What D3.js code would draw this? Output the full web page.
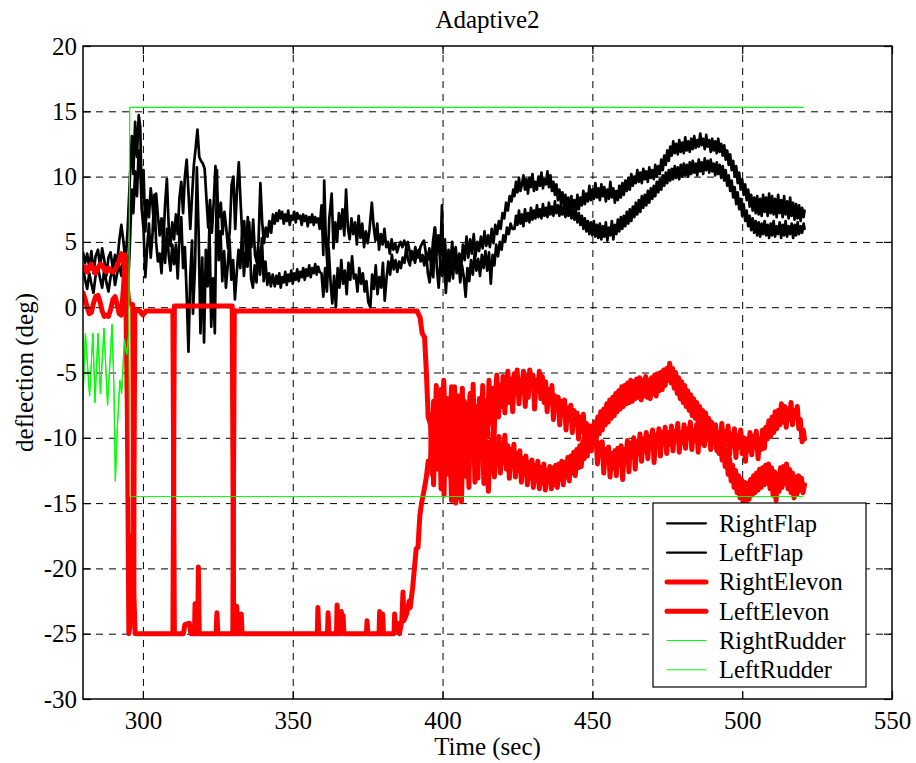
<!DOCTYPE html>
<html><head><meta charset="utf-8">
<script src="https://cdn.jsdelivr.net/npm/d3@7"></script>
<style>body{margin:0;background:#fff} text{font-family:"Liberation Serif","Times New Roman",serif}</style>
</head><body><svg id="c" width="916" height="763"></svg>
<script>
const titleText = "Adaptive2";
const xLabel = "Time (sec)";
const yLabel = "deflection (deg)";
const xTicks = [300,350,400,450,500,550];
const yTicks = [-30,-25,-20,-15,-10,-5,0,5,10,15,20];
const seriesNames = ["RightFlap","LeftFlap","RightElevon","LeftElevon","RightRudder","LeftRudder"];

const rightFlap = [[280,4.2],[280.7,3.4],[281.4,4.1],[282.1,3.0],[282.8,4.3],[283.5,2.6],[284.2,3.9],[285,4.4],[285.7,3.1],[286.4,4.5],[287.1,3.6],[287.8,2.4],[288.5,3.8],[289.2,4.2],[290,2.9],[290.7,4.0],[291.4,3.3],[292.1,5.1],[292.8,6.3],[293.5,5.0],[294.2,3.4],[294.9,6.0],
[295.6,9.6],[296.3,13.1],[296.8,10.2],[297.4,14.2],[298,11.5],[298.6,14.7],[299.1,13.8],[299.6,8.4],[300.2,10.5],[300.8,5.8],[301.4,8.2],[302,6.9],[302.6,9.1],[303.2,7.8],[303.8,5.9],[304.4,8.7],[305,7.0],[305.6,5.5],[306.2,6.8],[306.8,4.9],[307.4,7.9],[308,9.8],[308.6,6.2],[309.2,4.7],[309.8,6.5],[310.4,5.2],[311,7.1],[311.6,5.6],[312.2,8.4],[312.8,9.6],[313.4,7.2],[314,10.0],[314.6,11.3],[315.2,8.8],[315.8,6.0],[316.4,8.5],[317,10.9],[317.6,12.2],[318.2,13.6],[318.8,11.5],[319.4,11.2],[320,11.0],[320.6,10.6],[321.2,8.3],[321.8,6.1],[322.4,8.2],[323,5.7],[323.6,7.9],[324.2,10.8],[324.8,8.4],[325.4,6.9],[326,8.0],[326.6,5.6],[327.2,7.3],[327.8,6.1],[328.4,4.5],[329,5.9],[329.6,9.4],[330.2,10.0],[330.8,6.0],[331.4,9.0],[332,11.1],[332.6,8.0],[333.2,5.3],[333.8,6.6],[334.4,4.2],[335,6.9],[335.6,5.0],[336.2,4.6],[336.8,6.7],[337.4,4.0],[338,3.4],[338.6,5.1],[339.2,9.5],[339.8,6.5],[340.4,4.9],[341,6.1],[341.6,5.4],[342.2,6.6],[342.8,5.7],
[343.4,7.1],[344,6.4],[344.5,7.2],[345,6.6],[345.5,7.4],[346,6.8],[346.5,7.3],[347,6.4],[347.5,7.1],[348,6.6],[348.5,7.4],[349,6.3],[349.5,7.0],[350,6.7],[350.5,7.3],[351,6.5],[351.5,7.2],[352,6.8],[352.5,7.0],[353,6.3],[353.5,7.1],[354,6.6],[354.5,7.0],[355,6.2],[355.5,6.9],[356,6.5],[356.5,7.1],[357,6.3],[357.5,6.9],[358,6.5],[358.5,6.8],[359,6.0],
[359.6,7.8],[360.2,4.0],[360.5,9.7],[361,5.5],[361.6,3.0],[362.2,6.8],[363,8.7],[363.6,4.5],[364.2,6.5],[364.8,5.0],[365.4,7.2],[366,6.0],[366.6,7.5],[367.2,5.5],[367.8,9.0],[368.4,6.1],[369,5.2],[369.6,6.8],[370.2,5.6],[370.8,6.5],[371.4,4.8],[372,7.0],[372.6,5.3],[373.2,6.4],[373.8,4.6],[374.4,5.8],[375,4.9],[375.6,5.9],[376.4,8.0],[377,6.2],[377.6,5.1],[378.2,6.4],[378.8,4.4],[379.4,5.6],[380,4.8],[380.6,6.0],[381.2,4.6],[381.8,5.0],[382.4,4.1],[383,5.2],[383.6,4.4],[384.2,4.9],[384.8,4.2],[385.4,4.7],[386,5.0],[386.6,4.6],[387.2,5.1],[387.8,4.7],[388.4,5.0],[389,4.3],[389.6,3.6],[390.2,4.0],[390.8,3.4],[391.4,4.1],[392,3.8],[392.6,4.6],[393.2,4.9],[393.8,5.1],[394.4,4.2],[395,3.6],[395.6,4.5],[396.2,3.1],[396.8,5.0],[397.4,6.1],[398,4.0],[398.6,5.5],[399.2,3.4],[399.8,7.8],[400.3,3.0],[400.8,5.2],[401.4,2.6],[402,4.4],[402.6,3.2],[403.2,5.0],[403.8,3.6],[404.4,4.6],[405,2.8],[405.6,4.1],[406.2,3.0],[406.8,4.8],[407.4,3.6],[408,5.4],[408.6,3.8],[409.2,5.2],[409.8,4.1],[410.4,5.6],[411,3.9],[411.6,5.0],[412.2,4.3],[412.8,5.4],[413.4,4.5],[414,5.8],[414.6,4.7],[415.2,5.5],[415.8,4.6],[416.4,6.0],[417,4.9],[417.6,6.3],[418.2,5.6],[418.8,6.6],[419.4,6.0],[420,7.2],[420.6,6.8],[421.2,8.0],[421.8,7.4],[422.4,8.5],[423,8.1],[423.6,9.0],
[424,8.5],[424.5,9.6],[425,8.8],[425.5,9.9],[426,8.9],[426.5,9.4],[427,10.1],[427.5,9.0],[428,9.8],[428.5,8.7],[429,9.9],[429.5,9.2],[430,10.2],[430.5,8.9],[431,9.6],[431.5,9.0],[432,10.0],[432.5,9.3],[433,10.3],[433.5,9.1],[434,9.8],[434.5,9.4],[435,10.4],[435.5,9.2],[436,10.1],[436.5,8.9],[437,9.6],[437.5,8.6],[438,9.4],[438.5,8.2],[439,9.0],[439.5,8.0],[440,8.8],[440.5,7.7],[441,8.6],[441.5,7.6],[442,8.4],[442.5,7.4],[443,8.5],[443.5,7.6],[444,8.2],[444.5,7.3],[445,8.6],[445.5,7.5],[446,8.4],[446.5,7.8],[447,8.9],[447.5,7.9],[448,8.7],[448.5,8.1],[449,9.3],[449.5,8.2],[450,9.0],[450.5,8.3],[451,9.5],[451.5,8.4],[452,9.1],[452.5,8.2],[453,9.4],[453.5,8.5],[454,9.2],[454.5,8.1],[455,9.0],[455.5,8.3],[456,9.6],[456.5,8.4],[457,9.1],[457.5,8.0],[458,8.9],[458.5,8.2],[459,9.3],[459.5,8.4],[460,9.5],[460.5,8.6],[461,9.7],[461.5,8.9],[462,9.9],[462.5,9.0],[463,10.2],[463.5,9.3],[464,10.0],[464.5,9.5],[465,10.5],[465.5,9.6],[466,10.3],[466.5,9.5],[467,10.6],[467.5,9.8],[468,10.4],[468.5,9.6],[469,10.7],[469.5,9.9],[470,10.5],[470.5,9.8],[471,10.9],[471.5,10.0],[472,10.8],[472.5,10.2],[473,11.3],[473.5,10.5],[474,11.6],[474.5,10.9],[475,12.0],[475.5,11.2],[476,12.3],[476.5,11.6],[477,12.7],[477.5,11.8],[478,12.5],[478.5,11.7],[479,12.8],[479.5,11.9],[480,12.6],[480.5,11.8],[481,13.0],[481.5,12.0],[482,12.7],[482.5,11.9],[483,12.9],[483.5,12.1],[484,13.1],[484.5,12.2],[485,12.8],[485.5,12.3],[486,13.3],[486.5,12.4],[487,12.9],[487.5,12.1],[488,13.2],[488.5,12.3],[489,12.8],[489.5,11.9],[490,12.9],[490.5,12.0],[491,12.7],[491.5,11.8],[492,12.9],[492.5,11.9],[493,12.5],[493.5,11.6],[494,12.4],[494.5,11.3],[495,12.0],[495.5,10.9],[496,11.7],[496.5,10.5],[497,11.2],[497.5,10.0],[498,10.8],[498.5,9.5],[499,10.3],[499.5,9.0],[500,9.8],[500.5,8.6],[501,9.4],[501.5,8.2],[502,9.0],[502.5,7.7],[503,8.6],[503.5,7.4],[504,8.4],[504.5,7.2],[505,8.5],[505.5,7.1],[506,8.3],[506.5,7.0],[507,8.6],[507.5,7.3],[508,8.4],[508.5,7.0],[509,8.7],[509.5,7.2],[510,8.5],[510.5,7.1],[511,8.3],[511.5,6.9],[512,8.6],[512.5,7.2],[513,8.2],[513.5,6.9],[514,8.5],[514.5,7.1],[515,8.1],[515.5,6.8],[516,8.4],[516.5,7.0],[517,8.0],[517.5,6.7],[518,7.9],[518.5,6.8],[519,7.8],[519.5,6.6],[520,7.6],[520.5,6.9],[520.8,7.4]];

const leftFlap = [[280,3.0],[280.7,2.1],[281.4,1.4],[282.1,2.6],[282.8,1.8],[283.5,1.1],[284.2,2.4],[285,3.1],[285.7,2.2],[286.4,1.5],[287.1,2.9],[287.8,1.9],[288.5,1.2],[289.2,2.3],[290,3.0],[290.7,1.7],[291.4,2.6],[292.1,3.2],[292.8,2.4],[293.5,3.9],[294.2,2.2],[294.9,1.0],
[295.6,4.5],[296.3,9.0],[296.8,7.2],[297.4,10.4],[298,8.5],[298.6,12.0],[299.1,10.8],[299.6,7.5],[300.2,6.0],[300.8,2.3],[301.4,4.5],[302,6.4],[302.6,3.8],[303.2,5.6],[303.8,8.6],[304.4,5.0],[305,3.5],[305.6,4.1],[306.2,2.6],[306.8,5.5],[307.4,3.4],[308,6.0],[308.6,4.0],[309.2,2.8],[309.8,4.8],[310.4,3.3],[311,4.8],[311.6,2.2],[312.2,5.4],[312.8,6.9],[313.4,3.0],[314,4.6],[314.6,1.0],[315.2,-3.4],[315.8,2.4],[316.4,5.1],[316.7,-0.5],[317.4,3.2],[318,10.7],[318.6,5.6],[319.2,-2.0],[319.8,3.8],[320.4,-2.7],[321,4.4],[321.6,1.6],[322.2,6.2],[322.8,-1.5],[323.4,2.2],[324,-2.0],[324.7,10.5],[325.3,3.6],[325.9,5.8],[326.5,2.0],[327.1,4.3],[327.7,1.5],[328.3,3.2],[328.9,5.2],[329.5,2.1],[330.1,3.6],[330.7,0.6],[331.3,2.6],[331.9,4.4],[332.5,3.0],[333.1,5.9],[333.7,2.4],[334.3,4.2],[334.9,3.1],[335.5,6.5],[336.1,2.2],[336.7,1.5],[337.3,3.2],[337.9,1.9],[338.5,4.6],[339.1,2.5],[339.7,5.3],[340.3,2.0],[340.9,3.5],[341.5,1.7],[342.1,2.6],[342.7,1.6],
[343.3,2.5],[344,1.6],[344.5,2.4],[345,1.8],[345.5,2.6],[346,1.5],[346.5,2.3],[347,1.9],[347.5,2.7],[348,1.7],[348.5,2.5],[349,2.0],[349.5,2.8],[350,1.8],[350.5,2.6],[351,2.1],[351.5,2.9],[352,2.0],[352.5,2.7],[353,2.3],[353.5,3.0],[354,2.1],[354.5,2.9],[355,2.4],[355.5,3.2],[356,2.3],[356.5,3.0],[357,2.6],[357.5,3.3],[358,2.5],[358.5,3.1],[359,2.7],
[359.6,2.6],[360.2,0.8],[360.8,3.0],[361.4,1.2],[362,4.5],[362.6,2.0],[363.2,0.3],[363.8,2.4],[364.4,0.0],[365,3.0],[365.6,1.5],[366.2,3.6],[366.8,1.8],[367.4,2.8],[368,1.0],[368.6,3.4],[369.2,2.1],[369.8,3.9],[370.4,2.2],[371,2.5],[371.6,1.2],[372.2,3.0],[372.8,1.8],[373.4,2.6],[374,1.2],[374.6,2.0],[375.2,0.4],[375.9,0.0],[376.5,2.5],[377.1,1.4],[377.7,3.2],[378.3,1.0],[378.9,2.3],[379.5,1.5],[380.1,3.4],[380.7,0.5],[381.3,2.2],[381.9,3.5],[382.5,2.5],[383.1,4.0],[383.7,2.9],[384.3,3.6],[384.9,2.7],[385.5,3.5],[386.1,3.0],[386.7,3.8],[387.3,3.4],[387.9,4.6],[388.5,3.6],[389.1,3.2],[389.7,4.3],[390.3,3.7],[390.9,4.6],[391.5,3.9],[392.1,4.4],[392.7,3.5],[393.3,4.0],[393.9,3.2],[394.5,4.2],[395.1,2.6],[395.7,1.9],[396.3,3.5],[396.9,2.3],[397.5,6.1],[398.1,3.0],[398.7,1.5],[399.3,3.6],[399.9,2.4],[400.5,4.5],[401.1,1.1],[401.7,3.3],[402.3,2.0],[402.9,3.8],[403.5,2.2],[404.1,4.4],[404.7,2.6],[405.3,3.5],[405.9,1.9],[406.5,3.2],[407.1,2.3],[407.7,0.8],[408.3,3.0],[408.9,2.0],[409.5,3.6],[410.1,2.5],[410.7,4.1],[411.3,2.8],[411.9,3.7],[412.5,2.4],[413.1,4.0],[413.7,3.0],[414.3,4.3],[414.9,2.8],[415.5,4.2],[416.1,1.8],[416.7,4.0],[417.3,3.2],[417.9,4.8],[418.5,3.9],[419.1,5.0],[419.7,4.4],[420.3,5.5],[420.9,5.0],[421.5,6.1],[422.1,5.6],[422.7,6.4],[423.3,6.0],
[424,6.0],[424.5,7.0],[425,6.3],[425.5,7.4],[426,6.4],[426.5,7.1],[427,6.2],[427.5,7.5],[428,6.6],[428.5,7.2],[429,6.5],[429.5,7.6],[430,6.7],[430.5,7.4],[431,6.8],[431.5,7.8],[432,6.9],[432.5,7.5],[433,6.8],[433.5,7.9],[434,7.0],[434.5,7.6],[435,6.9],[435.5,8.0],[436,7.1],[436.5,7.7],[437,7.0],[437.5,8.1],[438,7.2],[438.5,7.8],[439,7.0],[439.5,7.9],[440,7.1],[440.5,7.6],[441,6.9],[441.5,7.8],[442,7.0],[442.5,7.5],[443,6.8],[443.5,7.6],[444,6.7],[444.5,7.3],[445,6.5],[445.5,7.2],[446,6.3],[446.5,7.0],[447,6.0],[447.5,6.8],[448,5.8],[448.5,6.6],[449,5.6],[449.5,6.5],[450,5.5],[450.5,6.6],[451,5.4],[451.5,6.3],[452,5.3],[452.5,6.4],[453,5.2],[453.5,6.2],[454,5.4],[454.5,6.5],[455,5.1],[455.5,6.1],[456,5.5],[456.5,6.6],[457,5.2],[457.5,6.3],[458,5.6],[458.5,6.7],[459,5.8],[459.5,6.9],[460,6.0],[460.5,7.0],[461,6.2],[461.5,7.3],[462,6.4],[462.5,7.5],[463,6.6],[463.5,7.7],[464,6.9],[464.5,8.0],[465,7.1],[465.5,8.2],[466,7.3],[466.5,8.5],[467,7.6],[467.5,8.6],[468,7.8],[468.5,8.9],[469,8.0],[469.5,9.1],[470,8.3],[470.5,9.3],[471,8.5],[471.5,9.6],[472,8.8],[472.5,9.8],[473,9.0],[473.5,10.1],[474,9.3],[474.5,10.3],[475,9.5],[475.5,10.5],[476,9.7],[476.5,10.6],[477,9.8],[477.5,10.8],[478,9.9],[478.5,10.7],[479,9.8],[479.5,10.9],[480,10.0],[480.5,11.0],[481,10.1],[481.5,10.9],[482,10.0],[482.5,11.1],[483,10.2],[483.5,11.2],[484,10.3],[484.5,11.0],[485,10.1],[485.5,11.3],[486,10.4],[486.5,11.1],[487,10.2],[487.5,11.4],[488,10.5],[488.5,11.2],[489,10.3],[489.5,11.3],[490,10.4],[490.5,11.0],[491,10.1],[491.5,11.1],[492,10.2],[492.5,10.9],[493,9.9],[493.5,10.8],[494,9.7],[494.5,10.5],[495,9.3],[495.5,10.1],[496,8.9],[496.5,9.7],[497,8.4],[497.5,9.2],[498,7.9],[498.5,8.8],[499,7.5],[499.5,8.3],[500,7.0],[500.5,7.9],[501,6.6],[501.5,7.4],[502,6.2],[502.5,7.0],[503,5.9],[503.5,6.8],[504,5.7],[504.5,6.6],[505,5.5],[505.5,6.5],[506,5.4],[506.5,6.4],[507,5.6],[507.5,6.6],[508,5.5],[508.5,6.3],[509,5.3],[509.5,6.4],[510,5.5],[510.5,6.6],[511,5.4],[511.5,6.2],[512,5.6],[512.5,6.5],[513,5.3],[513.5,6.3],[514,5.5],[514.5,6.6],[515,5.4],[515.5,6.2],[516,5.6],[516.5,6.4],[517,5.3],[517.5,6.3],[518,5.5],[518.5,6.5],[519,5.6],[519.5,6.2],[520,5.7],[520.5,6.4],[520.8,6.0]];

const rightElevon = [[280,2.8],[280.7,3.1],[281.4,2.7],[282.1,3.0],[282.8,3.3],[283.5,2.9],[284.2,2.6],[285,3.0],[285.7,3.3],[286.4,3.2],[287.1,2.9],[287.8,2.7],[288.5,3.0],[289.2,2.8],[290,2.7],[290.7,2.9],[291.4,3.2],[292.1,3.6],[292.8,4.1],[293.5,3.8],[294.2,2.5],[294.8,-8],[295.3,-25],[296,-24],[296.4,-17.5],[296.8,-24],[297.3,-0.3],[298,-0.2],[299,-0.3],[300,-0.6],[301,-0.3],[305,-0.3],[310,-0.3],[310.5,-25],[313.5,-25],[314,-24.3],[315.5,-24.2],[316,-25],[317.2,-25],[317.4,-22.7],[317.8,-25],[318.3,-25],[318.5,-19.9],[318.8,-25],[324.4,-25],[324.7,-23.4],[325,-25],[330,-25],[330.5,-0.3],[360,-0.3],[391.5,-0.3],[392.5,-0.8],[393.2,-2.0],[394,-2.3],[394.6,-5],[395.2,-8.4],
[396,-9.0],[396.5,-12.8],[397,-7.2],[397.4,-10.1],[397.9,-6.0],[398.5,-11.4],[399,-9.0],[399.5,-13.9],[400,-8.3],[400.4,-5.6],[401,-9.8],[401.5,-7.0],[402,-12.2],[402.4,-10.1],[403,-14.8],[403.5,-8.0],[404,-6.1],[404.6,-10.4],[405.1,-8.0],[405.6,-14.6],[406,-9.6],[406.6,-6.2],[407.1,-11.5],[407.6,-7.8],[408.1,-13.0],[408.6,-8.6],[409.2,-6.6],[409.7,-10.3],[410.2,-5.9],[410.8,-11.4],[411.3,-7.6],[411.8,-13.1],[412.3,-7.0],[412.9,-10.6],[413.4,-6.0],[414,-11.6],[414.5,-7.2],[415,-9.9],[415.5,-5.6],[416,-8.9],[416.6,-6.2],[417.1,-10.8],[417.6,-6.9],[418.1,-5.2],[418.7,-8.4],[419.2,-6.0],[419.7,-7.6],[420.2,-5.3],[420.8,-8.1],[421.3,-5.8],[421.8,-4.9],[422.3,-7.3],[422.9,-5.5],[423.4,-8.0],[423.9,-5.1],[424.4,-6.5],[424.9,-4.8],[425.5,-7.4],[426,-5.6],[426.5,-6.1],[427,-4.9],[427.6,-7.6],[428.1,-5.3],[428.6,-6.9],[429.1,-4.8],[429.7,-6.2],[430.2,-5.2],[430.7,-7.8],[431.2,-5.6],[431.8,-6.4],[432.3,-4.9],[432.8,-7.0],[433.3,-5.3],[433.9,-7.3],[434.4,-5.7],[434.9,-8.0],[435.4,-6.3],[436,-7.3],[436.5,-6.0],[437,-8.6],[437.5,-6.8],[438.1,-7.7],[438.6,-6.9],[439.1,-9.0],[439.6,-7.2],[440.2,-8.2],[440.7,-7.1],[441.2,-9.4],[441.7,-7.7],[442.3,-8.6],[442.8,-7.5],[443.3,-9.6],[443.8,-7.9],[444.4,-9.0],[444.9,-8.1],[445.4,-10.1],[445.9,-8.4],[446.5,-9.5],[447,-8.2],[447.5,-10.4],[448,-8.9],[448.6,-10.0],[449.1,-9.1],[449.6,-11.0],[450.1,-9.6],[450.7,-10.6],[451.2,-9.8],[451.7,-12.0],[452.2,-10.4],[452.8,-11.3],[453.3,-10.3],[453.8,-12.7],[454.3,-10.9],[454.9,-11.9],[455.4,-10.7],[455.9,-13.0],[456.4,-11.2],[457,-12.3],[457.5,-11.0],[458,-12.9],[458.5,-10.8],[459.1,-12.1],[459.6,-10.6],[460.1,-13.2],[460.6,-10.9],[461.2,-11.6],[461.7,-10.2],[462.2,-12.6],[462.7,-10.4],[463.3,-11.4],[463.8,-10.0],[464.3,-12.4],[464.8,-10.3],[465.4,-11.2],[465.9,-9.7],[466.4,-11.8],[466.9,-10.1],[467.5,-11.0],[468,-9.6],[468.5,-11.6],[469,-9.9],[469.6,-10.7],[470.1,-9.4],[470.6,-11.9],[471.1,-9.8],[471.7,-10.6],[472.2,-9.3],[472.7,-11.4],[473.2,-9.6],[473.8,-10.3],[474.3,-9.2],[474.8,-11.2],[475.3,-9.6],[475.9,-10.5],[476.4,-9.1],[476.9,-11.0],[477.4,-9.5],[478,-10.2],[478.5,-8.9],[479,-11.1],[479.5,-9.6],[480.1,-10.4],[480.6,-9.0],[481.1,-10.8],[481.6,-9.3],[482.2,-10.0],[482.7,-8.8],[483.2,-10.9],[483.7,-9.4],[484.3,-10.2],[484.8,-9.0],[485.3,-11.1],[485.8,-9.3],[486.4,-10.4],[486.9,-8.9],[487.4,-10.6],[487.9,-9.2],[488.5,-10.1],[489,-8.7],[489.5,-10.9],[490,-9.4],[490.6,-10.3],[491.1,-9.0],[491.6,-11.0],[492.1,-9.6],[492.7,-10.2],[493.2,-8.9],[493.7,-11.2],[494.2,-9.5],[494.8,-10.5],[495.3,-9.1],[495.8,-11.3],[496.3,-9.7],[496.9,-10.6],[497.4,-9.3],[497.9,-11.5],[498.4,-9.8],[499,-10.7],[499.5,-9.4],[500,-11.2],[500.5,-10.0],[501.1,-11.8],[501.6,-10.1],[502.1,-11.0],[502.6,-9.6],[503.2,-11.3],[503.7,-9.9],[504.2,-10.7],[504.7,-9.5],[505.3,-11.6],[505.8,-10.1],[506.3,-10.9],[506.8,-9.4],[507.4,-10.8],[507.9,-9.2],[508.4,-10.1],[508.9,-8.7],[509.5,-9.9],[510,-8.4],[510.5,-9.6],[511,-8.0],[511.6,-9.3],[512.1,-7.9],[512.6,-9.0],[513.1,-7.4],[513.7,-8.8],[514.2,-7.6],[514.7,-9.2],[515.2,-7.8],[515.8,-8.6],[516.3,-7.3],[516.8,-9.0],[517.3,-7.9],[517.9,-8.4],[518.4,-7.6],[518.9,-9.3],[519.4,-8.6],[520,-10.3],[520.4,-9.4],[520.8,-10.1]];

const leftElevon = [[280,1.1],[280.7,0.6],[281.4,0.0],[282.1,-0.5],[282.8,-0.4],[283.5,0.3],[284.2,0.8],[285,0.9],[285.7,0.4],[286.4,-0.3],[287.1,-0.7],[287.8,-0.6],[288.5,-0.7],[289.2,-0.2],[290,0.6],[290.7,0.8],[291.4,0.2],[292.1,-0.5],[292.8,-0.6],[293.5,1.5],[294.2,4.0],[294.8,1.5],[295.3,0.3],[296.6,0.2],[297,-22],[297.4,-25],[305,-25],[310,-25],[310.5,0.1],[320,0.1],[329.8,0.1],[330.3,-25],[331,-25],[331.3,-22.9],[331.7,-25],[332.5,-25],[332.8,-23.5],[333.1,-25],[345,-25],[358.2,-25],[358.4,-23],[358.7,-25],[361.6,-25],[361.8,-23.4],[362.1,-25],[364.6,-25],[364.8,-22.8],[365.1,-25],[366,-25],[366.2,-23.3],[366.5,-24],[366.8,-23.6],[367.1,-25],[374.6,-25],[374.8,-24],[375.1,-25],[378.8,-25],[379,-23.3],[379.3,-25],[379.8,-25],[380,-23.5],[380.3,-25],[383.8,-25],[384,-23.5],[384.3,-24.5],[385,-24.2],[385.6,-25],[386.4,-24],[386.8,-21.8],[387.1,-24],[388,-23.5],[388.9,-22.5],[389.2,-23.0],[390,-21.5],[390.6,-20],[391.2,-18.5],[391.8,-18.4],[392.4,-16],[393,-15],[394,-13.8],[394.6,-13],[395.2,-11.8],
[396,-11.7],[396.5,-8.2],[397,-13.6],[397.5,-9.5],[398,-7.6],[398.5,-12.4],[399,-9.8],[399.5,-6.3],[400,-11.2],[400.5,-14.4],[401,-7.4],[401.5,-10.9],[402,-12.8],[402.5,-8.6],[403,-6.1],[403.5,-11.0],[404,-13.5],[404.4,-15.0],[404.9,-9.2],[405.4,-6.8],[405.9,-12.4],[406.3,-14.9],[406.8,-10.0],[407.3,-7.2],[407.8,-12.9],[408.3,-9.5],[408.8,-13.8],[409.3,-7.0],[409.8,-10.7],[410.3,-8.2],[410.8,-13.4],[411.3,-9.0],[411.8,-12.2],[412.3,-7.5],[412.8,-11.6],[413.3,-9.4],[413.8,-13.5],[414.3,-10.2],[414.8,-11.8],[415.3,-14.1],[415.8,-10.3],[416.3,-12.6],[416.8,-9.6],[417.3,-13.0],[417.8,-10.8],[418.3,-12.0],[418.8,-9.9],[419.3,-12.7],[419.8,-10.4],[420.3,-11.9],[420.8,-9.8],[421.3,-12.4],[421.8,-10.6],[422.3,-13.1],[422.8,-10.9],[423.3,-12.0],[423.8,-10.5],[424.3,-13.0],[424.8,-11.2],[425.3,-12.5],[425.8,-11.0],[426.3,-13.4],[426.8,-11.6],[427.3,-12.8],[427.8,-11.4],[428.3,-13.6],[428.8,-11.9],[429.3,-13.1],[429.8,-11.7],[430.3,-13.8],[430.8,-12.1],[431.3,-13.3],[431.8,-11.8],[432.3,-13.9],[432.8,-12.3],[433.3,-13.5],[433.8,-12.0],[434.3,-14.0],[434.8,-12.5],[435.3,-13.4],[435.8,-12.2],[436.3,-13.9],[436.8,-12.3],[437.3,-13.6],[437.8,-12.1],[438.3,-13.8],[438.8,-12.0],[439.3,-13.2],[439.8,-11.8],[440.3,-13.6],[440.8,-11.9],[441.3,-13.0],[441.8,-11.5],[442.3,-13.3],[442.8,-11.4],[443.3,-12.7],[443.8,-11.1],[444.3,-12.9],[444.8,-10.9],[445.3,-12.3],[445.8,-10.6],[446.3,-12.2],[446.8,-10.3],[447.3,-11.6],[447.8,-9.9],[448.3,-11.4],[448.8,-9.5],[449.3,-10.8],[449.8,-9.1],[450.3,-10.5],[450.8,-8.8],[451.3,-10.0],[451.8,-8.4],[452.3,-9.7],[452.8,-8.0],[453.3,-9.4],[453.8,-7.8],[454.3,-9.0],[454.8,-7.4],[455.3,-8.8],[455.8,-7.1],[456.3,-8.5],[456.8,-6.9],[457.3,-8.3],[457.8,-6.6],[458.3,-8.0],[458.8,-6.4],[459.3,-7.8],[459.8,-6.1],[460.3,-7.6],[460.8,-6.0],[461.3,-7.4],[461.8,-5.8],[462.3,-7.3],[462.8,-5.6],[463.3,-7.2],[463.8,-5.7],[464.3,-7.0],[464.8,-5.5],[465.3,-6.9],[465.8,-5.4],[466.3,-7.1],[466.8,-5.6],[467.3,-6.8],[467.8,-5.3],[468.3,-6.9],[468.8,-5.6],[469.3,-7.0],[469.8,-5.4],[470.3,-6.6],[470.8,-5.2],[471.3,-6.8],[471.8,-5.1],[472.3,-6.4],[472.8,-5.0],[473.3,-6.3],[473.8,-4.8],[474.3,-6.0],[474.8,-4.7],[475.3,-5.6],[475.8,-4.3],[476.3,-5.8],[476.8,-4.7],[477.3,-6.2],[477.8,-5.0],[478.3,-6.6],[478.8,-5.4],[479.3,-7.0],[479.8,-5.7],[480.3,-7.3],[480.8,-6.0],[481.3,-7.6],[481.8,-6.4],[482.3,-7.9],[482.8,-6.7],[483.3,-8.3],[483.8,-7.0],[484.3,-8.5],[484.8,-7.3],[485.3,-8.9],[485.8,-7.6],[486.3,-9.1],[486.8,-7.9],[487.3,-9.4],[487.8,-8.1],[488.3,-9.7],[488.8,-8.5],[489.3,-10.0],[489.8,-8.8],[490.3,-10.4],[490.8,-9.2],[491.3,-10.8],[491.8,-9.6],[492.3,-11.2],[492.8,-10.0],[493.3,-11.7],[493.8,-10.5],[494.3,-12.2],[494.8,-11.0],[495.3,-12.8],[495.8,-11.6],[496.3,-13.3],[496.8,-12.1],[497.3,-13.8],[497.8,-12.5],[498.3,-14.2],[498.8,-12.9],[499.3,-14.6],[499.8,-13.2],[500.3,-14.9],[500.8,-13.4],[501.3,-15.0],[501.8,-13.5],[502.3,-14.7],[502.8,-13.2],[503.3,-14.4],[503.8,-12.9],[504.3,-14.2],[504.8,-12.7],[505.3,-14.0],[505.8,-12.4],[506.3,-13.8],[506.8,-12.3],[507.3,-13.6],[507.8,-12.1],[508.3,-13.5],[508.8,-12.0],[509.3,-13.9],[509.8,-12.3],[510.3,-14.4],[510.8,-12.6],[511.3,-14.8],[511.8,-12.8],[512.3,-14.1],[512.8,-12.3],[513.3,-13.8],[513.8,-12.2],[514.3,-13.5],[514.8,-12.0],[515.3,-13.9],[515.8,-12.4],[516.3,-14.2],[516.8,-12.7],[517.3,-14.6],[517.8,-13.0],[518.3,-14.3],[518.8,-12.9],[519.3,-14.0],[519.8,-13.1],[520.3,-14.2],[520.8,-13.6]];

const rightRudder = [[280,-7.1],[280.8,-2.0],[282.2,-6.8],[283.3,-2.0],[284,-7.3],[285,-2.0],[285.8,-6.6],[287,-1.6],[288.2,-7.5],[289.7,-1.3],[290.3,-6.0],[290.8,-13.3],[291.4,-9.5],[292.3,-5.6],[292.9,-6.6],[293.8,-2.5],[294.6,-3.6],[295.3,-2.0],[295.6,15.3],[520.3,15.3]];
const leftRudder = [[280,-7.1],[280.8,-2.0],[282.2,-6.8],[283.3,-2.0],[284,-7.3],[285,-2.0],[285.8,-6.6],[287,-1.6],[288.2,-7.5],[289.7,-1.3],[290.3,-6.0],[290.8,-13.3],[291.4,-9.5],[292.3,-5.6],[292.9,-6.6],[293.8,-2.5],[294.6,-3.6],[295.3,-2.0],[295.6,-14.5],[520.3,-14.5]];

const seriesData = [rightFlap,leftFlap,rightElevon,leftElevon,rightRudder,leftRudder];
const seriesStyle = [
  {color:"#000000", width:2.7, legendWidth:2.2},
  {color:"#000000", width:2.7, legendWidth:2.2},
  {color:"#ff0000", width:5, legendWidth:5},
  {color:"#ff0000", width:5, legendWidth:5},
  {color:"#00ff00", width:1.2, legendWidth:1.2},
  {color:"#00ff00", width:1, legendWidth:1}
];

const svg = d3.select("#c");
const m = {l:83, r:892, t:46, b:699};
const x = d3.scaleLinear().domain([280,550]).range([m.l,m.r]);
const y = d3.scaleLinear().domain([-30,20]).range([m.b,m.t]);
const FS = 25;
const fmt = d => String(d);

svg.append("rect").attr("x",0).attr("y",0).attr("width",916).attr("height",763).attr("fill","#fff");

// grid
const grid = svg.append("g");
grid.append("g").attr("transform",`translate(0,${m.b})`)
  .call(d3.axisBottom(x).tickValues(xTicks.filter(v=>v<550)).tickSize(-(m.b-m.t)).tickFormat(""))
  .call(g=>g.select(".domain").remove())
  .call(g=>g.selectAll("line").attr("stroke","#000").attr("stroke-width",1).attr("stroke-dasharray","7,6"));
grid.append("g").attr("transform",`translate(${m.l},0)`)
  .call(d3.axisLeft(y).tickValues(yTicks.filter(v=>v>-30&&v<20)).tickSize(-(m.r-m.l)).tickFormat(""))
  .call(g=>g.select(".domain").remove())
  .call(g=>g.selectAll("line").attr("stroke","#000").attr("stroke-width",1).attr("stroke-dasharray","7,6"));

// clip
svg.append("clipPath").attr("id","clip").append("rect")
  .attr("x",m.l).attr("y",m.t).attr("width",m.r-m.l).attr("height",m.b-m.t);

const line = d3.line().x(d=>x(d[0])).y(d=>y(d[1]));
const plot = svg.append("g").attr("clip-path","url(#clip)");
seriesData.forEach((data,i)=>{
  plot.append("path").datum(data).attr("d",line)
    .attr("fill","none").attr("stroke",seriesStyle[i].color)
    .attr("stroke-width",seriesStyle[i].width)
    .attr("stroke-linejoin","round").attr("stroke-linecap","round");
});

// axes (inward ticks)
function styleAxis(g){
  g.select(".domain").remove();
  g.selectAll("line").attr("stroke","#000").attr("stroke-width",1.2);
  g.selectAll("text").attr("fill","#000").style("font-size",FS+"px")
    .style("font-family",'"Liberation Serif","Times New Roman",serif');
  g.attr("font-family",null).attr("font-size",null);
}
svg.append("g").attr("transform",`translate(0,${m.b})`)
  .call(d3.axisBottom(x).tickValues(xTicks).tickSize(-8).tickPadding(12).tickFormat(fmt)).call(styleAxis);
svg.append("g").attr("transform",`translate(0,${m.t})`)
  .call(d3.axisTop(x).tickValues(xTicks).tickSize(-8).tickFormat("")).call(styleAxis);
svg.append("g").attr("transform",`translate(${m.l},0)`)
  .call(d3.axisLeft(y).tickValues(yTicks).tickSize(-8).tickPadding(6).tickFormat(fmt)).call(styleAxis);
svg.append("g").attr("transform",`translate(${m.r},0)`)
  .call(d3.axisRight(y).tickValues(yTicks).tickSize(-8).tickFormat("")).call(styleAxis);

// frame
svg.append("rect").attr("x",m.l).attr("y",m.t).attr("width",m.r-m.l).attr("height",m.b-m.t)
  .attr("fill","none").attr("stroke","#000").attr("stroke-width",1.5);

// title and labels
svg.append("text").attr("x",(m.l+m.r)/2).attr("y",28).attr("text-anchor","middle")
  .style("font-size",FS+"px").text(titleText);
svg.append("text").attr("x",(m.l+m.r)/2).attr("y",755).attr("text-anchor","middle")
  .style("font-size",FS+"px").text(xLabel);
svg.append("text").attr("transform",`translate(33,${(m.t+m.b)/2}) rotate(-90)`).attr("text-anchor","middle")
  .style("font-size",FS+"px").text(yLabel);

// legend
const lg = svg.append("g");
lg.append("rect").attr("x",653).attr("y",503).attr("width",213).attr("height",184)
  .attr("fill","#fff").attr("stroke","#000").attr("stroke-width",1.2);
seriesNames.forEach((name,i)=>{
  const cy = 523.3 + i*29.3;
  lg.append("line").attr("x1",667).attr("x2",706).attr("y1",cy).attr("y2",cy)
    .attr("stroke",seriesStyle[i].color).attr("stroke-width",seriesStyle[i].legendWidth)
    .attr("stroke-linecap","round");
  lg.append("text").attr("x",719).attr("y",cy+8.4).style("font-size","24.5px").text(name);
});
</script></body></html>
